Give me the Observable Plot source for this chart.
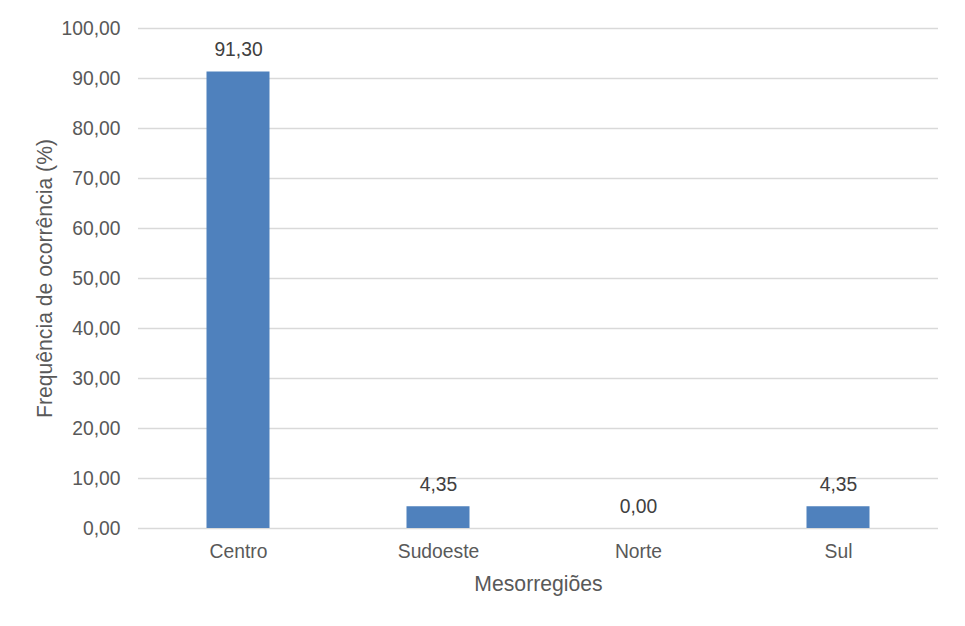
<!DOCTYPE html>
<html>
<head>
<meta charset="utf-8">
<script src="https://cdn.jsdelivr.net/npm/d3@7"></script>
<script src="https://cdn.jsdelivr.net/npm/@observablehq/plot@0.6"></script>
<style>
  html, body { margin: 0; padding: 0; background: #fff; }
  #chart { width: 965px; height: 626px; }
</style>
</head>
<body>
<div id="chart"></div>
<script>
const categories = ["Centro", "Sudoeste", "Norte", "Sul"];
const values = [91.30, 4.35, 0.00, 4.35];
const yTicks = [0, 10, 20, 30, 40, 50, 60, 70, 80, 90, 100];
const xTitle = "Mesorregiões";
const yTitle = "Frequência de ocorrência (%)";

const data = categories.map((c, i) => ({category: c, value: values[i]}));
const fmt = d => d.toFixed(2).replace(".", ",");
const textColor = "#595959";
const font = "'Liberation Sans', Arial, Helvetica, sans-serif";

const chart = Plot.plot({
  width: 965,
  height: 626,
  marginLeft: 138,
  marginRight: 27,
  marginTop: 28,
  marginBottom: 98,
  style: {fontFamily: font, fontSize: "19.3px", color: textColor, background: "#fff"},
  x: {domain: categories, paddingInner: 0.685, paddingOuter: 0.3425, round: false},
  y: {domain: [0, 100]},
  marks: [
    Plot.ruleY(yTicks, {stroke: "#d9d9d9", strokeWidth: 1.5}),
    Plot.barY(data, {x: "category", y: "value", fill: "#4f81bd"}),
    Plot.text(data, {x: "category", y: "value", text: d => fmt(d.value), dy: -22, fill: "#404040", fontSize: 19.3}),
    Plot.axisY({ticks: yTicks, tickSize: 0, tickPadding: 18, tickFormat: fmt, fill: textColor,
      label: yTitle, labelAnchor: "center", labelArrow: "none", labelOffset: 102}),
    Plot.axisX({tickSize: 0, tickPadding: 16, fill: textColor,
      label: xTitle, labelAnchor: "center", labelArrow: "none", labelOffset: 62})
  ]
});
// enlarge axis titles
chart.querySelectorAll("g[aria-label='y-axis label'] text, g[aria-label='x-axis label'] text").forEach(t => {
  t.setAttribute("font-size", "21.2px");
});
document.getElementById("chart").appendChild(chart);
</script>
</body>
</html>
